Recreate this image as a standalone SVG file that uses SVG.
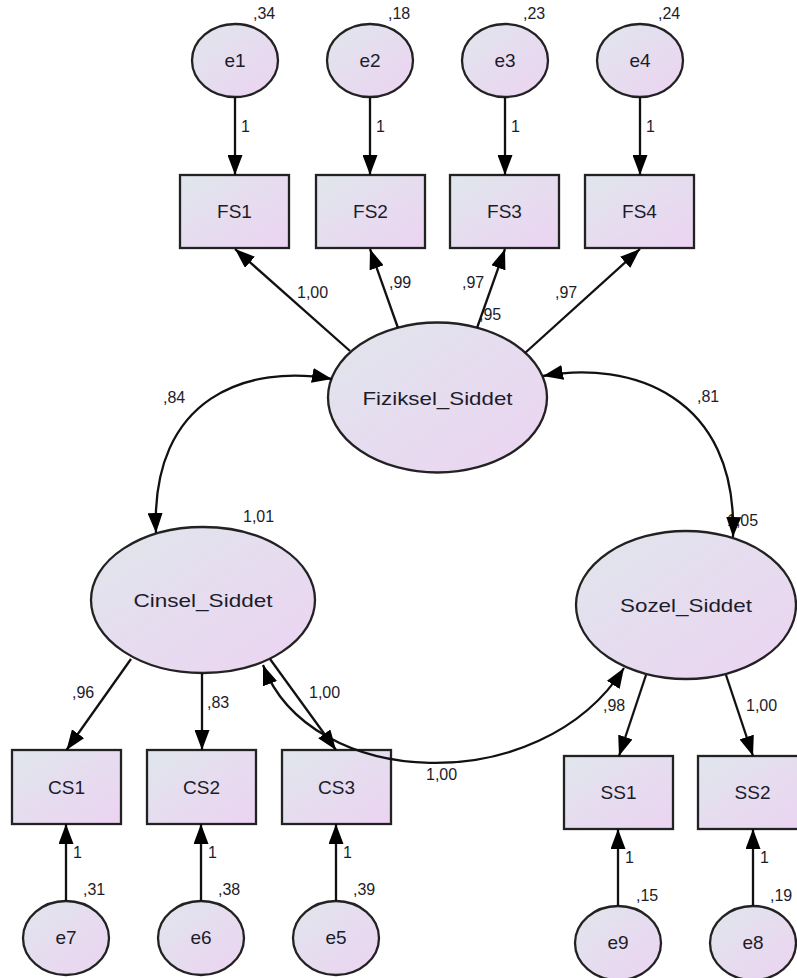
<svg xmlns="http://www.w3.org/2000/svg" width="797" height="978" viewBox="0 0 797 978">
<defs>
<linearGradient id="g" x1="0" y1="0" x2="1" y2="1">
<stop offset="0" stop-color="#e0e6ec"/>
<stop offset="1" stop-color="#ecd3f2"/>
</linearGradient>
<marker id="ah" viewBox="0 0 20 15" refX="20" refY="7.5" markerWidth="20" markerHeight="15" markerUnits="userSpaceOnUse" orient="auto-start-reverse">
<path d="M0,0 L20,7.5 L0,15 z" fill="#000"/>
</marker>
</defs>
<style>
.n{fill:url(#g);stroke:#222;stroke-width:2.3}
.t{font-family:"Liberation Sans",Arial,sans-serif;font-size:19px;fill:#1c1c2a;text-anchor:middle}
.p{font-family:"Liberation Sans",Arial,sans-serif;font-size:16px;fill:#1c1c2a}
.c{fill:none;stroke:#111;stroke-width:2.3;marker-end:url(#ah)}
.d{fill:none;stroke:#111;stroke-width:2.3;marker-start:url(#ah);marker-end:url(#ah)}
</style>
<rect width="797" height="978" fill="#fff"/>

<g id="e1"><ellipse class="n" cx="235" cy="60.5" rx="43" ry="36.5"/><text class="t" x="235" y="67">e1</text></g>
<g id="e2"><ellipse class="n" cx="370" cy="60.5" rx="43" ry="36.5"/><text class="t" x="370" y="67">e2</text></g>
<g id="e3"><ellipse class="n" cx="505" cy="60.5" rx="43" ry="36.5"/><text class="t" x="505" y="67">e3</text></g>
<g id="e4"><ellipse class="n" cx="640" cy="60.5" rx="43" ry="36.5"/><text class="t" x="640" y="67">e4</text></g>

<g id="FS1"><rect class="n" x="180" y="175" width="109" height="73"/><text class="t" x="234.5" y="218">FS1</text></g>
<g id="FS2"><rect class="n" x="316" y="175" width="109" height="73"/><text class="t" x="370.5" y="218">FS2</text></g>
<g id="FS3"><rect class="n" x="450" y="175" width="109" height="73"/><text class="t" x="504.5" y="218">FS3</text></g>
<g id="FS4"><rect class="n" x="585" y="175" width="109" height="73"/><text class="t" x="639.5" y="218">FS4</text></g>

<g id="Fiziksel_Siddet"><ellipse class="n" cx="437.5" cy="397.5" rx="109.5" ry="75"/><text class="t" x="437.5" y="405" textLength="150" lengthAdjust="spacingAndGlyphs">Fiziksel_Siddet</text></g>
<g id="Cinsel_Siddet"><ellipse class="n" cx="203" cy="600" rx="112" ry="73"/><text class="t" x="203" y="607" textLength="139" lengthAdjust="spacingAndGlyphs">Cinsel_Siddet</text></g>
<g id="Sozel_Siddet"><ellipse class="n" cx="686" cy="605" rx="110" ry="74"/><text class="t" x="686" y="612" textLength="132" lengthAdjust="spacingAndGlyphs">Sozel_Siddet</text></g>

<g id="CS1"><rect class="n" x="12" y="750" width="109" height="74"/><text class="t" x="66.5" y="794">CS1</text></g>
<g id="CS2"><rect class="n" x="147" y="750" width="109" height="74"/><text class="t" x="201.5" y="794">CS2</text></g>
<g id="CS3"><rect class="n" x="282" y="750" width="109" height="74"/><text class="t" x="336.5" y="794">CS3</text></g>
<g id="SS1"><rect class="n" x="564" y="756" width="109" height="73"/><text class="t" x="618.5" y="799">SS1</text></g>
<g id="SS2"><rect class="n" x="698" y="756" width="109" height="73"/><text class="t" x="752.5" y="799">SS2</text></g>

<g id="e7"><ellipse class="n" cx="66" cy="938" rx="43" ry="37"/><text class="t" x="66" y="944">e7</text></g>
<g id="e6"><ellipse class="n" cx="201" cy="938" rx="43" ry="37"/><text class="t" x="201" y="944">e6</text></g>
<g id="e5"><ellipse class="n" cx="336" cy="938" rx="43" ry="37"/><text class="t" x="336" y="944">e5</text></g>
<g id="e9"><ellipse class="n" cx="618" cy="943" rx="43" ry="37"/><text class="t" x="618" y="949">e9</text></g>
<g id="e8"><ellipse class="n" cx="753" cy="943" rx="43" ry="37"/><text class="t" x="753" y="949">e8</text></g>

<g id="labels">
<text class="p" x="253" y="19">,34</text>
<text class="p" x="388" y="19">,18</text>
<text class="p" x="523" y="19">,23</text>
<text class="p" x="658" y="19">,24</text>
<text class="p" x="241" y="132">1</text>
<text class="p" x="376" y="132">1</text>
<text class="p" x="511" y="132">1</text>
<text class="p" x="646" y="132">1</text>
<text class="p" x="297" y="298">1,00</text>
<text class="p" x="389" y="288">,99</text>
<text class="p" x="462" y="288">,97</text>
<text class="p" x="479" y="320">,95</text>
<text class="p" x="555" y="298">,97</text>
<text class="p" x="163" y="403">,84</text>
<text class="p" x="697" y="402">,81</text>
<text class="p" x="243" y="522">1,01</text>
<text class="p" x="727" y="526">1,05</text>
<text class="p" x="72" y="698">,96</text>
<text class="p" x="207" y="708">,83</text>
<text class="p" x="309" y="698">1,00</text>
<text class="p" x="426" y="780">1,00</text>
<text class="p" x="603" y="711">,98</text>
<text class="p" x="746" y="711">1,00</text>
<text class="p" x="73" y="858">1</text>
<text class="p" x="208" y="858">1</text>
<text class="p" x="343" y="858">1</text>
<text class="p" x="625" y="863">1</text>
<text class="p" x="760" y="863">1</text>
<text class="p" x="83" y="895">,31</text>
<text class="p" x="218" y="895">,38</text>
<text class="p" x="353" y="895">,39</text>
<text class="p" x="636" y="901">,15</text>
<text class="p" x="770" y="901">,19</text>
</g>

<g id="connectors">
<line class="c" x1="235" y1="97" x2="235" y2="175"/>
<line class="c" x1="370" y1="97" x2="370" y2="175"/>
<line class="c" x1="505" y1="97" x2="505" y2="175"/>
<line class="c" x1="640" y1="97" x2="640" y2="175"/>
<line class="c" x1="350" y1="351" x2="235" y2="249"/>
<line class="c" x1="398" y1="328" x2="370" y2="249"/>
<line class="c" x1="477" y1="328" x2="505" y2="249"/>
<line class="c" x1="525" y1="353" x2="640" y2="249"/>
<path class="d" d="M332,379 C250,364 150,395 156,533"/>
<path class="d" d="M543,376 C630,360 738,395 733,537"/>
<path class="d" d="M263,665 C310,790 540,800 624,668"/>
<line class="c" x1="131" y1="659" x2="66.5" y2="750"/>
<line class="c" x1="202" y1="673" x2="202" y2="750"/>
<line class="c" x1="270" y1="659" x2="336" y2="750"/>
<line class="c" x1="646" y1="675" x2="619" y2="756"/>
<line class="c" x1="726" y1="675" x2="753" y2="756"/>
<line class="c" x1="66" y1="901" x2="66" y2="824"/>
<line class="c" x1="201" y1="901" x2="201" y2="824"/>
<line class="c" x1="336" y1="901" x2="336" y2="824"/>
<line class="c" x1="618" y1="906" x2="618" y2="829"/>
<line class="c" x1="753" y1="906" x2="753" y2="829"/>
</g>
</svg>
